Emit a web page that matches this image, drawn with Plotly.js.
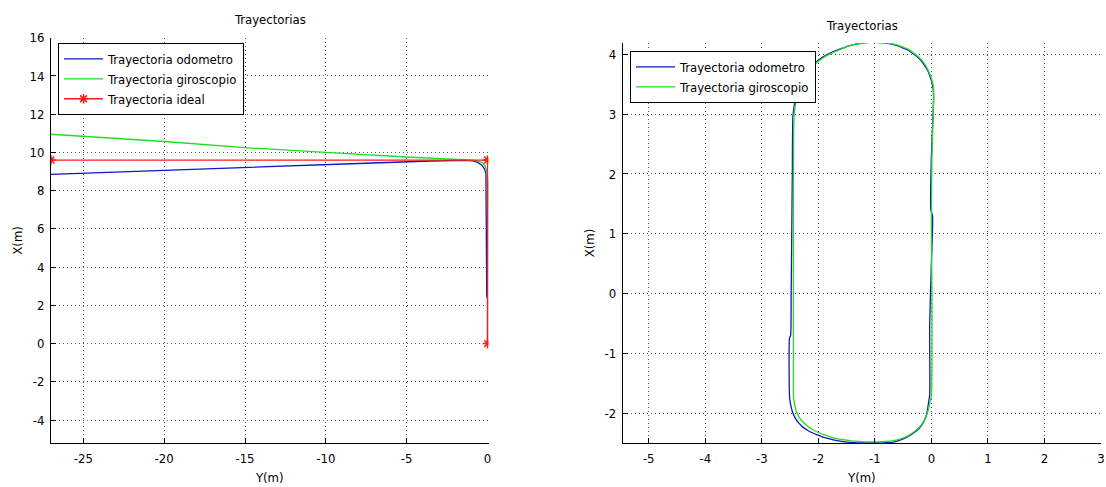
<!DOCTYPE html>
<html>
<head>
<meta charset="utf-8">
<script src="https://cdn.plot.ly/plotly-3.0.1.min.js"></script>
<style>
html,body{margin:0;padding:0;background:#fff;}
#chart{width:1106px;height:487px;}
</style>
</head>
<body>
<div id="chart"></div>
<script>
// ---------- Left chart: straight run then turn ----------
const leftTitle = "Trayectorias";
const leftXLabel = "Y(m)";
const leftYLabel = "X(m)";
const leftXTicks = [-25, -20, -15, -10, -5, 0];
const leftYTicks = [-4, -2, 0, 2, 4, 6, 8, 10, 12, 14, 16];

// odometer trajectory (Y, X)
const odoLeftY = [0, 0, -0.05, -0.06, -0.06, -0.07, -0.1, -0.2, -0.35, -0.6, -0.9, -1.5, -2.5, -3.5, -8, -15, -20, -27];
const odoLeftX = [0, 2.3, 2.5, 6.0, 8.0, 8.6, 8.9, 9.15, 9.33, 9.48, 9.56, 9.58, 9.57, 9.55, 9.42, 9.22, 9.07, 8.85];

// gyroscope trajectory (Y, X)
const gyroLeftY = [0, 0, 0.04, 0.05, 0.04, -0.05, -0.15, -0.3, -0.55, -0.9, -1.5, -3, -5, -10, -15, -20, -27];
const gyroLeftX = [0, 6.5, 6.7, 7.8, 8.6, 9.05, 9.3, 9.45, 9.55, 9.6, 9.62, 9.67, 9.76, 10.0, 10.25, 10.57, 10.95];

// ideal trajectory (Y, X)
const idealY = [0, 0, -27];
const idealX = [0, 9.6, 9.6];

// ---------- Right chart: closed loop ----------
const rightTitle = "Trayectorias";
const rightXLabel = "Y(m)";
const rightYLabel = "X(m)";
const rightXTicks = [-5, -4, -3, -2, -1, 0, 1, 2, 3];
const rightYTicks = [-2, -1, 0, 1, 2, 3, 4];

// odometer loop (Y, X)
const odoRightY = [-0.03, -0.03, 0.0, 0.02, -0.01, 0.0, 0.03, 0.04,
  0.03, 0.01, -0.02, -0.06, -0.11, -0.17, -0.24, -0.32, -0.41, -0.51, -0.62, -0.74, -0.86, -0.98, -1.1, -1.22, -1.34, -1.46, -1.58, -1.7, -1.82, -1.93, -2.04, -2.14, -2.23, -2.3, -2.36, -2.4, -2.43, -2.45,
  -2.46, -2.47, -2.48, -2.49, -2.51, -2.51,
  -2.5, -2.48, -2.45, -2.41, -2.36, -2.3, -2.22, -2.13, -2.03, -1.92, -1.8, -1.67, -1.53, -1.38, -1.2, -1.0, -0.8, -0.65, -0.52, -0.41, -0.31, -0.22, -0.15, -0.1, -0.07, -0.05, -0.03];
const odoRightX = [-1.7, -0.5, 0.5, 1.3, 1.4, 2.3, 3.0, 3.3,
  3.42, 3.53, 3.62, 3.72, 3.8, 3.88, 3.95, 4.01, 4.07, 4.11, 4.15, 4.18, 4.195, 4.2, 4.2, 4.19, 4.17, 4.14, 4.1, 4.06, 4.01, 3.95, 3.87, 3.78, 3.67, 3.55, 3.42, 3.28, 3.12, 2.95,
  2.0, 1.0, 0.0, -0.7, -0.75, -1.7,
  -1.8, -1.9, -2.0, -2.08, -2.15, -2.21, -2.27, -2.32, -2.36, -2.4, -2.43, -2.46, -2.48, -2.495, -2.5, -2.5, -2.495, -2.48, -2.44, -2.39, -2.33, -2.26, -2.17, -2.07, -1.95, -1.82, -1.7];

// gyroscope loop (Y, X)
const gyroRightY = [0.0, 0.01, 0.0, 0.01, 0.04,
  0.04, 0.02, -0.01, -0.05, -0.1, -0.16, -0.23, -0.31, -0.4, -0.5, -0.61, -0.73, -0.85, -0.97, -1.09, -1.21, -1.33, -1.45, -1.57, -1.69, -1.81, -1.92, -2.03, -2.13, -2.21, -2.28, -2.34, -2.38, -2.41, -2.43,
  -2.44, -2.44, -2.44, -2.44,
  -2.43, -2.41, -2.38, -2.34, -2.28, -2.2, -2.11, -2.01, -1.9, -1.78, -1.65, -1.51, -1.36, -1.18, -1.0, -0.82, -0.67, -0.54, -0.43, -0.33, -0.24, -0.16, -0.1, -0.06, -0.03, 0.0];
const gyroRightX = [-1.7, 0.0, 1.0, 2.3, 3.3,
  3.42, 3.53, 3.63, 3.72, 3.81, 3.89, 3.96, 4.02, 4.08, 4.12, 4.16, 4.18, 4.195, 4.2, 4.2, 4.19, 4.17, 4.14, 4.1, 4.05, 4.0, 3.94, 3.86, 3.77, 3.67, 3.55, 3.42, 3.28, 3.13, 2.97,
  2.0, 0.0, -1.0, -1.7,
  -1.8, -1.9, -1.99, -2.07, -2.14, -2.21, -2.27, -2.32, -2.36, -2.4, -2.43, -2.45, -2.47, -2.48, -2.48, -2.475, -2.46, -2.43, -2.39, -2.33, -2.26, -2.17, -2.07, -1.96, -1.84, -1.7];

const seriesNames = ["Trayectoria odometro", "Trayectoria giroscopio", "Trayectoria ideal"];

// ---------- styling ----------
const W = 1106, H = 487;
const FONT = "'Liberation Sans Narrow', 'Arial Narrow', 'DejaVu Sans Condensed', Arial, sans-serif";
const BLUE = "#1414c8", GREEN = "#22dd22", RED = "#ff1a1a";

const px = v => v / W;
const py = v => 1 - v / H;

const traces = [
  {x: odoLeftY, y: odoLeftX, mode: "lines", name: seriesNames[0], line: {color: BLUE, width: 1.3}, xaxis: "x", yaxis: "y", legend: "legend"},
  {x: gyroLeftY, y: gyroLeftX, mode: "lines", name: seriesNames[1], line: {color: GREEN, width: 1.3}, xaxis: "x", yaxis: "y", legend: "legend"},
  {x: idealY, y: idealX, mode: "lines+markers", name: seriesNames[2], line: {color: RED, width: 1.3},
   marker: {symbol: "asterisk-open", size: 8, color: RED, line: {color: RED, width: 1.5}}, xaxis: "x", yaxis: "y", legend: "legend"},
  {x: odoRightY, y: odoRightX, mode: "lines", name: seriesNames[0], line: {color: BLUE, width: 1.3, shape: "spline", smoothing: 0.6}, xaxis: "x2", yaxis: "y2", legend: "legend2"},
  {x: gyroRightY, y: gyroRightX, mode: "lines", name: seriesNames[1], line: {color: GREEN, width: 1.3, shape: "spline", smoothing: 0.6}, xaxis: "x2", yaxis: "y2", legend: "legend2"}
];

function axis(extra) {
  return Object.assign({
    showline: true, linecolor: "#000", linewidth: 1,
    ticks: "inside", ticklen: 5, tickcolor: "#000", tickwidth: 1,
    showgrid: true, gridcolor: "#555", griddash: "1px,3px", gridwidth: 1,
    zeroline: false, mirror: false, fixedrange: true,
    tickfont: {family: FONT, size: 13, color: "#000"},
    ticklabelstandoff: 3
  }, extra);
}

const layout = {
  width: W, height: H,
  margin: {l: 0, r: 0, t: 0, b: 0},
  paper_bgcolor: "#fff", plot_bgcolor: "#fff",
  font: {family: FONT, size: 13, color: "#000"},
  xaxis: axis({domain: [px(51), px(488.5)], range: [-27, 0.06], tickvals: leftXTicks, ticktext: leftXTicks.map(String), anchor: "y",
               title: {text: leftXLabel, font: {family: FONT, size: 13}, standoff: 8}}),
  yaxis: axis({domain: [py(443), py(37.7)], range: [-5.2, 16], tickvals: leftYTicks, ticktext: leftYTicks.map(String), anchor: "x",
               title: {text: leftYLabel, font: {family: FONT, size: 13}, standoff: 3}}),
  xaxis2: axis({domain: [px(622.7), px(1101)], range: [-5.46, 3], tickvals: rightXTicks, ticktext: rightXTicks.map(String), anchor: "y2",
               title: {text: rightXLabel, font: {family: FONT, size: 13}, standoff: 8}}),
  yaxis2: axis({domain: [py(443), py(43)], range: [-2.5, 4.19], tickvals: rightYTicks, ticktext: rightYTicks.map(String), anchor: "x2",
               title: {text: rightYLabel, font: {family: FONT, size: 13}, standoff: 6}}),
  legend: {x: px(58), y: py(43), xanchor: "left", yanchor: "top", bgcolor: "#fff", bordercolor: "#000", borderwidth: 1,
           font: {family: FONT, size: 13, color: "#000"}, tracegroupgap: 0, itemwidth: 39},
  legend2: {x: px(630), y: py(51), xanchor: "left", yanchor: "top", bgcolor: "#fff", bordercolor: "#000", borderwidth: 1,
           font: {family: FONT, size: 13, color: "#000"}, tracegroupgap: 0, itemwidth: 39},
  showlegend: true,
  annotations: [
    {text: leftTitle, x: px(269.5), y: py(20), xref: "paper", yref: "paper", xanchor: "center", yanchor: "middle", showarrow: false,
     font: {family: FONT, size: 13, color: "#000"}},
    {text: rightTitle, x: px(862), y: py(25), xref: "paper", yref: "paper", xanchor: "center", yanchor: "middle", showarrow: false,
     font: {family: FONT, size: 13, color: "#000"}}
  ]
};

Plotly.newPlot("chart", traces, layout, {staticPlot: true, displayModeBar: false});
</script>
</body>
</html>
